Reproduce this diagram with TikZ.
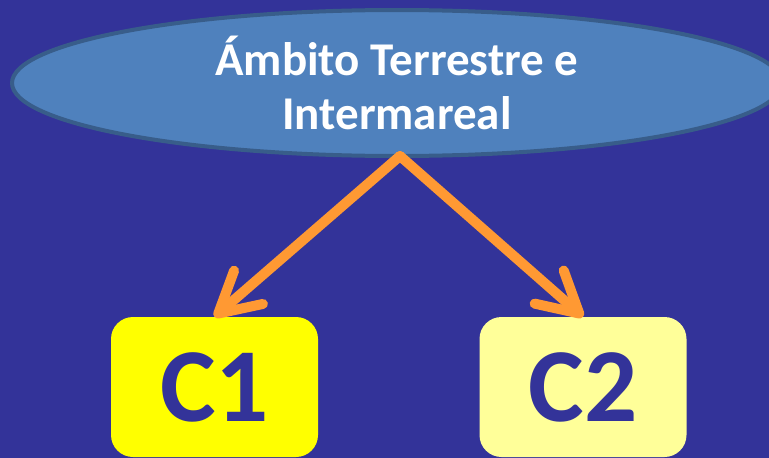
\documentclass[tikz,border=0pt]{standalone}
\usepackage{fontspec}
\setmainfont{Carlito}
\usetikzlibrary{shapes.geometric,arrows.meta}
\definecolor{bgblue}{HTML}{333399}
\definecolor{ellfill}{HTML}{4F81BD}
\definecolor{elldraw}{HTML}{385D8A}
\definecolor{arroworange}{HTML}{FF9933}
\definecolor{brightyellow}{HTML}{FFFF00}
\definecolor{lightyellow}{HTML}{FFFF99}
\tikzset{
  topell/.style={ellipse, fill=ellfill, draw=elldraw, line width=4pt,
    minimum width=770pt, minimum height=146pt, inner sep=0pt,
    text=white, align=center,
    font=\fontsize{47}{54}\selectfont\bfseries},
  cbox/.style={rounded corners=22pt, minimum width=207pt, minimum height=140pt,
    inner sep=0pt, text=bgblue,
    font=\fontsize{105}{110}\selectfont\bfseries},
  conn/.style={draw=arroworange, line width=10pt, line cap=round, line join=round,
    -{Straight Barb[length=40pt,width=44pt,round]}}
}
\begin{document}
\begin{tikzpicture}[x=1pt,y=-1pt]
\fill[bgblue] (0,0) rectangle (769,458);
\useasboundingbox (0,0) rectangle (769,458);
\node[topell] (E) at (397,83) {Ámbito Terrestre e\\Intermareal};
\node[cbox, fill=brightyellow] (C1) at (214.5,387) {C1};
\node[cbox, fill=lightyellow] (C2) at (583,387) {C2};
\coordinate (S) at (400,156);
\draw[conn] (S) -- (C1.north);
\draw[conn] (S) -- (C2.north);
\end{tikzpicture}
\end{document}
